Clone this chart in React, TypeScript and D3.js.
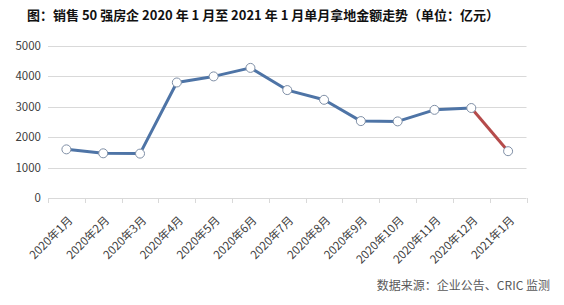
import React from "react";
import * as d3 from "d3";

const months = ["2020年1月","2020年2月","2020年3月","2020年4月","2020年5月","2020年6月","2020年7月","2020年8月","2020年9月","2020年10月","2020年11月","2020年12月","2021年1月"];
const values = [1600, 1470, 1460, 3800, 4000, 4280, 3550, 3230, 2530, 2520, 2900, 2960, 1540];
const yTicks = [0, 1000, 2000, 3000, 4000, 5000];
const title = "图：销售 50 强房企 2020 年 1 月至 2021 年 1 月单月拿地金额走势（单位：亿元）";
const source = "数据来源：企业公告、CRIC 监测";

const W = 564, H = 305;
const FONT = "'Noto Sans CJK SC', 'Noto Sans', sans-serif";

export default function App() {
  const x = d3.scaleBand<string>().domain(months).range([48, 526.5]);
  const y = d3.scaleLinear().domain([0, 5000]).range([198, 46]);
  const cx = (m: string) => (x(m) as number) + x.bandwidth() / 2;
  const line = d3.line<number>().x((_, i) => cx(months[i])).y((d) => y(d));
  const n = values.length;
  const bluePath = line(values.slice(0, n - 1)) as string;
  const redPath = d3.line<number>().x((_, i) => cx(months[n - 2 + i])).y((d) => y(d))(values.slice(n - 2)) as string;
  const tickXs = months.map((m) => x(m) as number).concat([x.range()[1]]);

  return (
    <svg width={W} height={H} style={{ position: "absolute", left: 0, top: 0, background: "#fff" }} fontFamily={FONT}>
      <rect width={W} height={H} fill="#fff" />
      <text x={27} y={20} textAnchor="start" fontSize={13} fontWeight="bold" fill="#111" textLength={472} lengthAdjust="spacingAndGlyphs">{title}</text>
      {yTicks.map((t) => (
        <g key={t}>
          <line x1={48} x2={526.5} y1={Math.round(y(t)) + 0.5} y2={Math.round(y(t)) + 0.5} stroke="#d9d9d9" strokeWidth={1} />
          <text x={41} y={y(t) + 4} textAnchor="end" fontSize={11.5} fill="#404040">{t}</text>
        </g>
      ))}
      {tickXs.map((tx, i) => (
        <line key={i} x1={Math.round(tx) + 0.5} x2={Math.round(tx) + 0.5} y1={198} y2={203} stroke="#d9d9d9" strokeWidth={1} />
      ))}
      {months.map((m) => (
        <text key={m} transform={`translate(${cx(m) + 7},${221}) rotate(-45)`} textAnchor="end" fontSize={11.5} fill="#404040">{m}</text>
      ))}
      <path d={bluePath} fill="none" stroke="#4E74A6" strokeWidth={3} strokeLinejoin="round" />
      <path d={redPath} fill="none" stroke="#B54B4B" strokeWidth={3} strokeLinejoin="round" />
      {values.map((v, i) => (
        <circle key={i} cx={cx(months[i])} cy={y(v)} r={4.5} fill="#fff" stroke="#7f8fa6" strokeWidth={1} />
      ))}
      <text x={550} y={290} textAnchor="end" fontSize={12} fill="#595959">{source}</text>
    </svg>
  );
}
